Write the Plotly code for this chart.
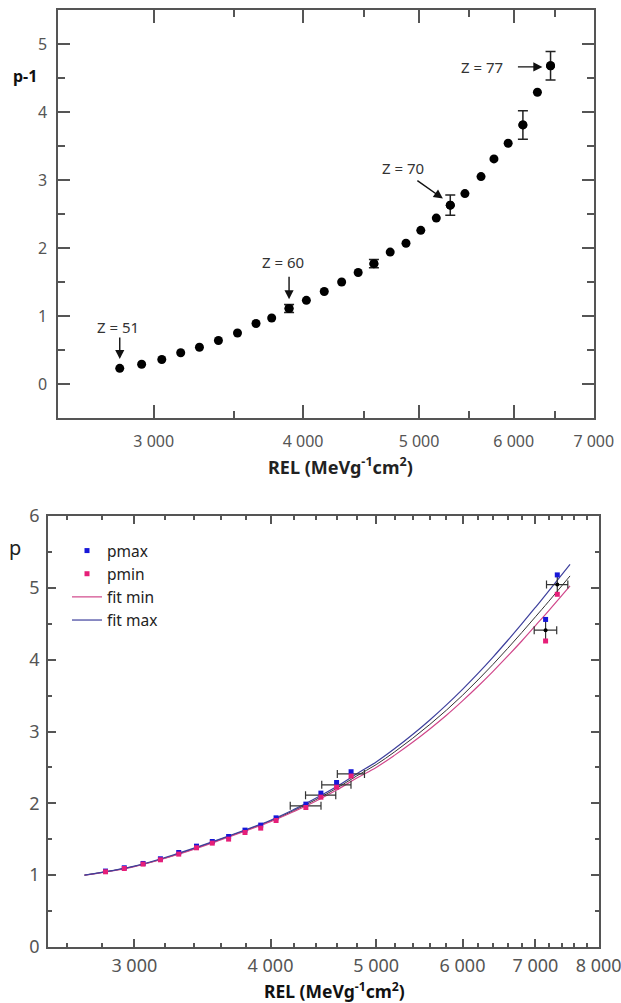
import math
import plotly.graph_objects as go

# ---------------- top panel data (p-1 vs REL) ----------------
rel_top = [2810, 2931, 3047, 3160, 3276, 3398, 3525, 3653, 3765, 3893, 4025, 4166, 4308, 4447,
           4584, 4730, 4876, 5017, 5169, 5310, 5462, 5634, 5776, 5936, 6107, 6280, 6441]
pm1_top = [0.23, 0.29, 0.36, 0.46, 0.54, 0.64, 0.75, 0.89, 0.97, 1.11, 1.23, 1.36, 1.50, 1.64,
           1.77, 1.94, 2.07, 2.26, 2.44, 2.63, 2.80, 3.05, 3.31, 3.54, 3.81, 4.29, 4.68]
err_idx_top = [9, 14, 19, 24, 26]
err_val_top = [0.06, 0.06, 0.15, 0.21, 0.21]

z_labels = ["Z = 51", "Z = 60", "Z = 70", "Z = 77"]
z_text_rel = [2799, 3846, 4846, 5648]
z_text_val = [0.836, 1.789, 3.182, 4.663]
z_head_rel = [2810, 3893, 5235, 6341]
z_head_val = [0.367, 1.246, 2.727, 4.663]
z_tail_dx = [0, 0, -27, -26]
z_tail_dy = [-23, -24, -19, 0]

top_xticks = [3000, 4000, 5000, 6000, 7000]
top_xticktext = ["3 000", "4 000", "5 000", "6 000", "7 000"]
top_xminor = [3500, 4500, 5500, 6500]
top_yticks = [0, 1, 2, 3, 4, 5]
top_yminor = [0.5, 1.5, 2.5, 3.5, 4.5]

# ---------------- bottom panel data (p vs REL) ----------------
rel_bot = [2823, 2937, 3056, 3170, 3295, 3421, 3537, 3661, 3790, 3918, 4047, 4310, 4449, 4599,
           4742, 7151, 7330]
pmax = [1.057, 1.103, 1.163, 1.228, 1.316, 1.404, 1.469, 1.538, 1.627, 1.697, 1.798, 1.989,
        2.142, 2.29, 2.44, 4.56, 5.18]
pmin = [1.047, 1.093, 1.154, 1.214, 1.293, 1.381, 1.446, 1.502, 1.594, 1.655, 1.761, 1.942,
        2.086, 2.225, 2.38, 4.26, 4.91]
avg_rel = [4310, 4449, 4599, 4742, 7151, 7330]
avg_p = [1.965, 2.114, 2.258, 2.41, 4.41, 5.045]
avg_p_err = [0.025, 0.03, 0.033, 0.03, 0.15, 0.135]
avg_rel_err = [140, 142, 142, 136, 170, 165]

fit_rel = [2700, 3000, 3300, 3600, 4000, 4200, 4400, 4600, 4800, 5000, 5200, 5400, 5600, 5800,
           6000, 6200, 6400, 6600, 6800, 7000, 7200, 7530]
fit_max = [1.00, 1.125, 1.31, 1.505, 1.765, 1.912, 2.07, 2.234, 2.412, 2.575, 2.762, 2.958, 3.161,
           3.371, 3.587, 3.809, 4.036, 4.267, 4.498, 4.729, 4.957, 5.326]
fit_mid = [1.00, 1.122, 1.30, 1.50, 1.755, 1.898, 2.05, 2.21, 2.383, 2.539, 2.718, 2.905, 3.098,
           3.297, 3.504, 3.718, 3.935, 4.156, 4.377, 4.597, 4.813, 5.166]
fit_min = [1.00, 1.12, 1.295, 1.49, 1.745, 1.884, 2.03, 2.185, 2.352, 2.50, 2.671, 2.849, 3.035,
           3.226, 3.426, 3.63, 3.838, 4.049, 4.26, 4.474, 4.684, 5.028]

bot_xticks = [3000, 4000, 5000, 6000, 7000, 8000]
bot_xticktext = ["3 000", "4 000", "5 000", "6 000", "7 000", "8 000"]
bot_xminor = [v for v in range(2600, 8000, 200) if v % 1000 != 0]
bot_yticks = [0, 1, 2, 3, 4, 5, 6]
bot_yminor = [0.5, 1.5, 2.5, 3.5, 4.5, 5.5]

FONT = "Noto Sans"
AX = "#555555"
TXT = "#555555"
W, H = 621, 1003

fig = go.Figure()

# top panel
fig.add_trace(go.Scatter(x=rel_top, y=pm1_top, mode="markers", xaxis="x", yaxis="y",
                         marker=dict(color="black", size=9), showlegend=False))
fig.add_trace(go.Scatter(x=[rel_top[i] for i in err_idx_top], y=[pm1_top[i] for i in err_idx_top],
                         mode="markers", xaxis="x", yaxis="y",
                         marker=dict(color="black", size=9),
                         error_y=dict(type="data", array=err_val_top, color="#222", thickness=1.5, width=5),
                         showlegend=False))

# bottom panel
fig.add_trace(go.Scatter(x=fit_rel, y=fit_mid, mode="lines", xaxis="x2", yaxis="y2",
                         line=dict(color="#333333", width=1, shape="spline"), showlegend=False))
fig.add_trace(go.Scatter(x=fit_rel, y=fit_min, mode="lines", xaxis="x2", yaxis="y2", name="fit min",
                         line=dict(color="#d0468a", width=1.2, shape="spline"), legendrank=3))
fig.add_trace(go.Scatter(x=fit_rel, y=fit_max, mode="lines", xaxis="x2", yaxis="y2", name="fit max",
                         line=dict(color="#3d3f9c", width=1.2, shape="spline"), legendrank=4))
fig.add_trace(go.Scatter(x=avg_rel, y=avg_p, mode="markers", xaxis="x2", yaxis="y2",
                         marker=dict(color="black", size=4),
                         error_x=dict(type="data", array=avg_rel_err, color="#333", thickness=1.2, width=4),
                         error_y=dict(type="data", array=avg_p_err, color="#333", thickness=1.2, width=0),
                         showlegend=False))
fig.add_trace(go.Scatter(x=rel_bot, y=pmax, mode="markers", xaxis="x2", yaxis="y2", name="pmax",
                         marker=dict(color="#1717d8", size=5, symbol="square"), legendrank=1))
fig.add_trace(go.Scatter(x=rel_bot, y=pmin, mode="markers", xaxis="x2", yaxis="y2", name="pmin",
                         marker=dict(color="#e61e78", size=5, symbol="square"), legendrank=2))

annotations = []
for lab, tx, ty in zip(z_labels, z_text_rel, z_text_val):
    annotations.append(dict(x=math.log10(tx), y=ty, xref="x", yref="y", text=lab, showarrow=False,
                            xanchor="center", yanchor="middle",
                            font=dict(family=FONT, size=15, color="#333")))
for hx, hy, dx, dy in zip(z_head_rel, z_head_val, z_tail_dx, z_tail_dy):
    annotations.append(dict(x=math.log10(hx), y=hy, xref="x", yref="y", text="", showarrow=True,
                            ax=dx, ay=dy, arrowhead=2, arrowsize=1.3, arrowwidth=1.4,
                            arrowcolor="#111"))

rel_title = "<b>REL (MeVg<sup>-1</sup>cm<sup>2</sup>)</b>"
def paper_text(px, py, text, size, color):
    return dict(x=px / W, y=1 - py / H, xref="paper", yref="paper", text=text, showarrow=False,
                xanchor="center", yanchor="middle", font=dict(family=FONT, size=size, color=color))

annotations += [
    paper_text(25, 76, "<b>p-1</b>", 16, "#111"),
    paper_text(340, 466, rel_title, 18, "#222"),
    paper_text(15, 547, "p", 20, "#222"),
    paper_text(335, 990, rel_title, 17.5, "#111"),
]

def axis_common(ticklen, size):
    return dict(showline=True, linecolor=AX, linewidth=1.5, mirror="ticks", ticks="inside",
                ticklen=ticklen, tickwidth=1.5, tickcolor=AX, showgrid=False, zeroline=False,
                tickfont=dict(family=FONT, size=size, color=TXT))

fig.update_layout(
    width=W, height=H, autosize=False,
    margin=dict(l=0, r=0, t=0, b=0, pad=0, autoexpand=False),
    paper_bgcolor="white", plot_bgcolor="white",
    xaxis=dict(type="log", range=[math.log10(2495), math.log10(7003)],
               domain=[58 / W, 594 / W], anchor="y",
               tickvals=top_xticks, ticktext=top_xticktext, ticklabelstandoff=8,
               ticklabeloverflow="allow",
               minor=dict(tickvals=top_xminor, ticks="inside", ticklen=7, tickcolor=AX, tickwidth=1.5),
               **axis_common(13, 16)),
    yaxis=dict(range=[-0.5, 5.5], domain=[1 - 418 / H, 1 - 10 / H], anchor="x",
               tickvals=top_yticks, ticklabelstandoff=6,
               minor=dict(tickvals=top_yminor, ticks="inside", ticklen=7, tickcolor=AX, tickwidth=1.5),
               **axis_common(12, 16)),
    xaxis2=dict(type="log", range=[math.log10(2500), math.log10(8005)],
                domain=[48 / W, 599 / W], anchor="y2",
                tickvals=bot_xticks, ticktext=bot_xticktext, ticklabelstandoff=2,
                ticklabeloverflow="allow",
                minor=dict(tickvals=bot_xminor, ticks="inside", ticklen=4, tickcolor=AX, tickwidth=1.5),
                **axis_common(8, 18)),
    yaxis2=dict(range=[0, 6], domain=[1 - 947 / H, 1 - 516 / H], anchor="x2",
                tickvals=bot_yticks, ticklabelstandoff=3,
                minor=dict(tickvals=bot_yminor, ticks="inside", ticklen=4, tickcolor=AX, tickwidth=1.5),
                **axis_common(8, 18)),
    legend=dict(x=67 / W, y=1 - 534 / H, xanchor="left", yanchor="top",
                bgcolor="rgba(0,0,0,0)", font=dict(family=FONT, size=15.5, color="#222"),
                tracegroupgap=0, itemwidth=30),
    annotations=annotations,
    showlegend=True,
)

fig.write_html("out.html", config={"displayModeBar": False},
               post_script="document.body.style.margin='0';document.body.style.overflow='hidden';")
